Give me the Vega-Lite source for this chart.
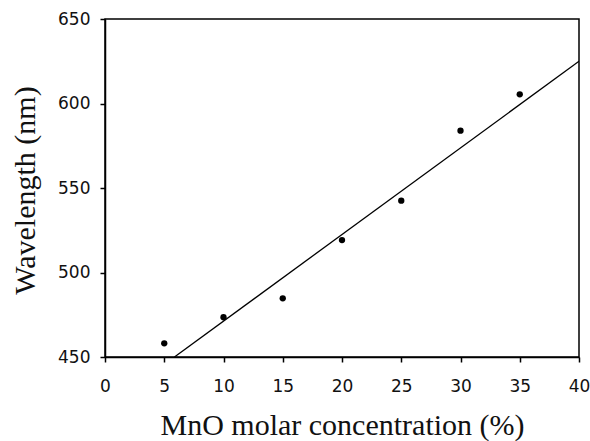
{
  "$schema": "https://vega.github.io/schema/vega-lite/v6.json",
  "autosize": {"type": "none"},
  "padding": {"left": 105, "top": 19, "right": 11, "bottom": 84},
  "width": 474,
  "height": 338,
  "background": "white",
  "config": {
    "view": {"stroke": "black", "strokeWidth": 1.5},
    "axis": {
      "grid": false,
      "domainColor": "black",
      "domainWidth": 1.5,
      "tickColor": "black",
      "tickWidth": 1.5,
      "tickSize": 5,
      "labelFlush": false,
      "labelOverlap": false,
      "labelFont": "DejaVu Sans",
      "labelFontSize": 17,
      "labelColor": "#111",
      "labelPadding": 10,
      "titleFont": "Liberation Serif",
      "titleFontSize": 30,
      "titleFontWeight": "normal",
      "titleColor": "#111"
    }
  },
  "datasets": {
    "measured": [
      {"mno": 5, "wavelength": 458.1},
      {"mno": 10, "wavelength": 473.5},
      {"mno": 15, "wavelength": 484.7},
      {"mno": 20, "wavelength": 519.2},
      {"mno": 25, "wavelength": 542.5},
      {"mno": 30, "wavelength": 583.9},
      {"mno": 35, "wavelength": 605.4}
    ],
    "fit": [
      {"mno": 5.86, "wavelength": 450},
      {"mno": 40, "wavelength": 625}
    ]
  },
  "layer": [
    {
      "data": {"name": "fit"},
      "mark": {"type": "line", "color": "black", "strokeWidth": 1.3, "clip": true},
      "encoding": {
        "x": {"field": "mno", "type": "quantitative"},
        "y": {"field": "wavelength", "type": "quantitative"}
      }
    },
    {
      "data": {"name": "measured"},
      "mark": {"type": "circle", "color": "black", "opacity": 1, "size": 40},
      "encoding": {
        "x": {
          "field": "mno",
          "type": "quantitative",
          "scale": {"domain": [0, 40], "nice": false, "zero": false},
          "axis": {
            "title": "MnO molar concentration (%)",
            "values": [0, 5, 10, 15, 20, 25, 30, 35, 40],
            "labelPadding": 16,
            "titleBaseline": "alphabetic",
            "titleY": 77
          }
        },
        "y": {
          "field": "wavelength",
          "type": "quantitative",
          "scale": {"domain": [450, 650], "nice": false, "zero": false},
          "axis": {
            "title": "Wavelength (nm)",
            "values": [450, 500, 550, 600, 650],
            "titleBaseline": "alphabetic",
            "titleX": -71,
            "titleY": 171
          }
        }
      }
    }
  ]
}
